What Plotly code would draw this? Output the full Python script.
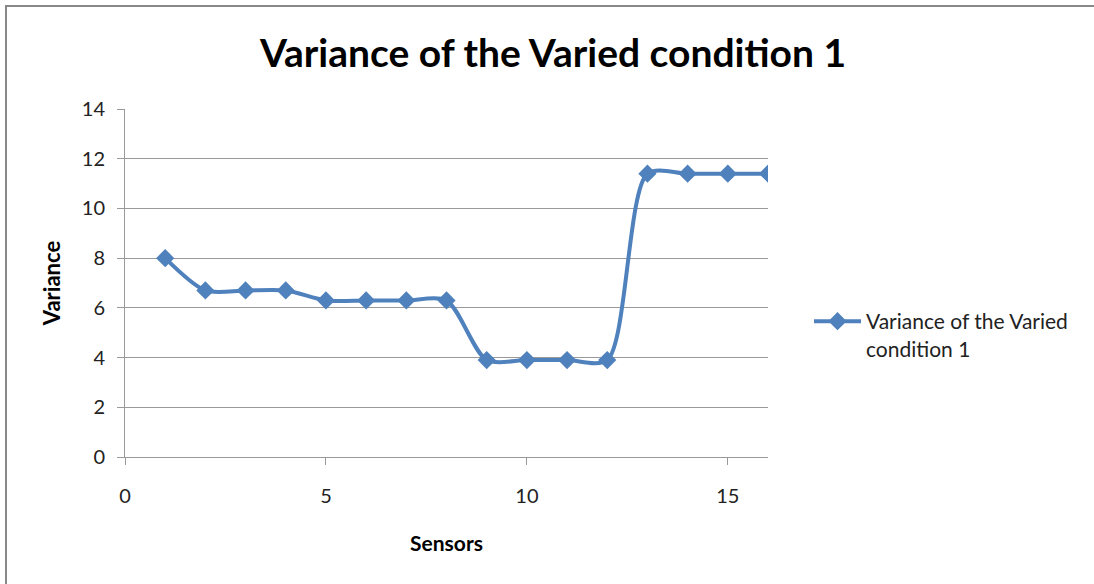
import plotly.graph_objects as go

sensors = list(range(1, 17))
variance = [8.0, 6.7, 6.7, 6.7, 6.3, 6.3, 6.3, 6.3, 3.9, 3.9, 3.9, 3.9, 11.4, 11.4, 11.4, 11.4]
series_name = "Variance of the Varied<br>condition 1"
x_ticks = [0, 5, 10, 15]
y_ticks = [0, 2, 4, 6, 8, 10, 12, 14]

W, H = 1094, 584
L, R, T, B = 125, 1094 - 768, 109, 584 - 457
pw, ph = W - L - R, H - T - B

def px(x):
    return (x - L) / pw

def py(y):
    return (H - B - y) / ph

fig = go.Figure()
fig.add_trace(go.Scatter(
    x=sensors, y=variance, mode="lines+markers", name=series_name,
    line=dict(color="#4F81BD", width=4, shape="spline", smoothing=0.8),
    marker=dict(symbol="diamond", size=14, color="#4F81BD"),
))

fig.update_layout(
    width=W, height=H,
    margin=dict(l=L, r=R, t=T, b=B),
    paper_bgcolor="white", plot_bgcolor="white",
    font=dict(family="Lato, Open Sans, sans-serif", color="#222"),
    title=dict(text="<b>Variance of the Varied condition 1</b>",
               x=553 / W, xanchor="center",
               y=1 - 53 / H, yanchor="middle",
               font=dict(size=39, color="black")),
    showlegend=True,
    legend=dict(x=px(809), y=py(301), xanchor="left", yanchor="top",
                font=dict(size=21, color="#222"), bgcolor="rgba(0,0,0,0)",
                itemwidth=47, valign="top"),
    xaxis=dict(range=[0, 16], tickvals=x_ticks, showgrid=False,
               showline=True, linecolor="#999", linewidth=1,
               ticks="outside", ticklen=7, tickcolor="#999",
               tickfont=dict(size=20), zeroline=False, ticklabelstandoff=14,
               title=dict(text="<b>Sensors</b>", font=dict(size=21, color="black"), standoff=30)),
    yaxis=dict(range=[0, 14], tickvals=y_ticks, showgrid=True, gridcolor="#999",
               gridwidth=1, showline=True, linecolor="#999", linewidth=1,
               ticks="outside", ticklen=7, tickcolor="#999",
               tickfont=dict(size=20), zeroline=False, ticklabelstandoff=8,
               title=dict(text="<b>Variance</b>", font=dict(size=22, color="black"), standoff=15)),
)

fig.add_shape(type="rect", xref="paper", yref="paper",
              x0=px(6), x1=px(1200), y0=py(6), y1=py(700),
              line=dict(color="#888", width=2), fillcolor="rgba(0,0,0,0)", layer="below")

fig.write_html("out.html", config={"displayModeBar": False},
               post_script="document.body.style.margin='0';")
